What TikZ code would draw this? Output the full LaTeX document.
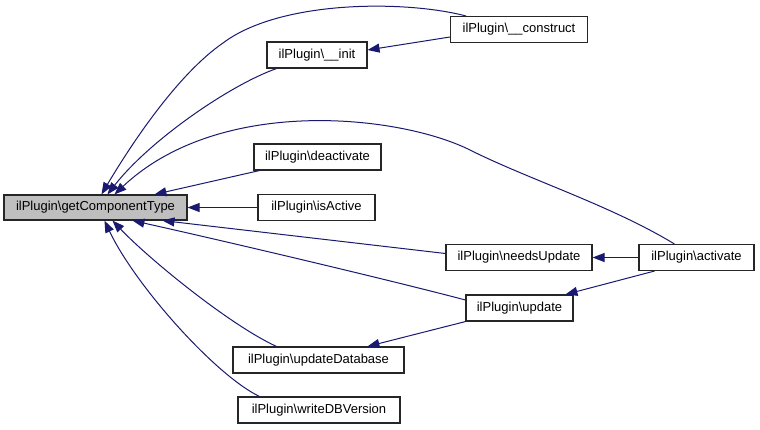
\documentclass[tikz,border=0pt]{standalone}
\usepackage{fontspec}
\setmainfont{Liberation Sans}
\usetikzlibrary{arrows.meta}
\definecolor{edgec}{HTML}{191970}
\definecolor{mainfill}{HTML}{BFBFBF}
\begin{document}
\begin{tikzpicture}[x=1bp,y=-1bp,
  box/.style={draw=black!85, line width=1.1bp, inner sep=0pt, minimum height=26bp,
    font=\fontsize{13bp}{15bp}\selectfont, fill=white},
  edge/.style={draw=edgec, line width=1bp, -{Triangle[length=12bp,width=9bp]}}]
\useasboundingbox (0,0) rectangle (760,429);
\node[box, fill=mainfill, minimum width=183bp, minimum height=25bp] (main) at (95.5,207.5) {ilPlugin\textbackslash getComponentType};
\node[box, minimum width=137bp] (construct) at (519,29.5) {ilPlugin\textbackslash\_\_construct};
\node[box, minimum width=100bp] (init) at (317,55) {ilPlugin\textbackslash\_\_init};
\node[box, minimum width=127bp] (deactivate) at (317.5,157) {ilPlugin\textbackslash deactivate};
\node[box, minimum width=117bp] (isActive) at (316.5,207.5) {ilPlugin\textbackslash isActive};
\node[box, minimum width=146bp] (needs) at (519,257.5) {ilPlugin\textbackslash needsUpdate};
\node[box, minimum width=115bp] (activate) at (696.5,257.5) {ilPlugin\textbackslash activate};
\node[box, minimum width=107bp] (update) at (519.5,308) {ilPlugin\textbackslash update};
\node[box, minimum width=171bp] (updDB) at (318.5,360) {ilPlugin\textbackslash updateDatabase};
\node[box, minimum width=162bp] (writeDB) at (319,410) {ilPlugin\textbackslash writeDBVersion};

\draw[edge] ([xshift=16bp]construct.north west) .. controls (405,0) and (280,0) .. (223,43) .. controls (178,74) and (132,143) .. ([xshift=98bp]main.north west);
\draw[edge] ([yshift=-7.5bp]construct.west) -- ([yshift=5bp]init.east);
\draw[edge] ([xshift=10bp]init.south west) .. controls (230,85) and (150,140) .. ([xshift=104bp]main.north west);
\draw[edge] ([xshift=36bp]activate.north west) .. controls (610,205) and (530,180) .. (470,150) .. controls (400,115) and (220,95) .. ([xshift=111bp]main.north west);
\draw[edge] ([xshift=6bp]deactivate.south west) -- ([xshift=151bp]main.north west);
\draw[edge] (isActive.west) -- (main.east);
\draw[edge] ([yshift=4bp]needs.west) -- ([xshift=159bp]main.south west);
\draw[edge] ([yshift=8bp]update.west) .. controls (390,280) and (220,240) .. ([xshift=129bp]main.south west);
\draw[edge] ([xshift=44bp]updDB.north west) .. controls (230,325) and (150,260) .. ([xshift=109bp]main.south west);
\draw[edge] ([xshift=22bp]writeDB.north west) .. controls (215,375) and (135,285) .. ([xshift=101bp]main.south west);
\draw[edge] (activate.west) -- (needs.east);
\draw[edge] ([xshift=16bp]activate.south west) -- ([xshift=100bp]update.north west);
\draw[edge] (update.south west) -- ([xshift=135bp]updDB.north west);
\end{tikzpicture}
\end{document}
